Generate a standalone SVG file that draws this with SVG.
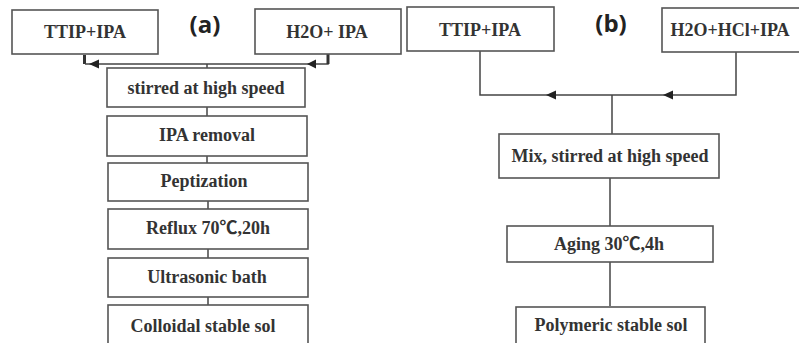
<svg xmlns="http://www.w3.org/2000/svg" width="799" height="343" viewBox="0 0 799 343">
<defs>
<style>
.box{fill:#fff;stroke:#555;stroke-width:1.6}
.t{font-family:'Liberation Serif','Noto Sans CJK SC','Times New Roman',serif;font-weight:700;font-size:18px;fill:#333;text-anchor:middle}
.lab{font-family:'Open Sans','Liberation Sans',sans-serif;font-weight:700;font-size:24px;fill:#222;text-anchor:middle}
.ln{fill:none;stroke:#444;stroke-width:1.5}
.thick{fill:none;stroke:#333;stroke-width:3}
.ah{fill:#222}
</style>
</defs>
<rect width="799" height="343" fill="#fff"/>
<text class="lab" x="205" y="33">(a)</text>
<text class="lab" x="611" y="32">(b)</text>
<g id="connectors">
<path class="thick" d="M84.5 55 V64"/>
<path class="ln" d="M85 64 H328 V51"/>
<path class="thick" d="M328 52 V64"/>
<polygon class="ah" points="89,64 99,59.5 99,68.5"/>
<polygon class="ah" points="307,64 316,59.5 316,68.5"/>
<path class="ln" d="M207 64 V68"/>
<path class="ln" d="M207 107 V116"/>
<path class="ln" d="M207 156 V163"/>
<path class="ln" d="M208 201 V209"/>
<path class="ln" d="M208 249 V258"/>
<path class="ln" d="M208 297 V305"/>
<path class="ln" d="M480 51 V95 H736 V52"/>
<polygon class="ah" points="546,95 556,90.5 556,99.5"/>
<polygon class="ah" points="663,95 673,90.5 673,99.5"/>
<path class="ln" d="M612 95 V134"/>
<path class="ln" d="M610 178 V226"/>
<path class="ln" d="M610 262 V306"/>
</g>
<g id="a-ttip"><rect class="box" x="12" y="10" width="146" height="44"/><text class="t" x="85" y="38">TTIP+IPA</text></g>
<g id="a-h2o"><rect class="box" x="255" y="9" width="146" height="45"/><text class="t" x="327" y="38">H2O+ IPA</text></g>
<g id="a-stir"><rect class="box" x="107" y="68" width="198" height="39"/><text class="t" x="206" y="94">stirred at high speed</text></g>
<g id="a-ipa"><rect class="box" x="107" y="116" width="200" height="40"/><text class="t" x="207" y="141">IPA removal</text></g>
<g id="a-pept"><rect class="box" x="108" y="163" width="200" height="38"/><text class="t" x="204" y="187">Peptization</text></g>
<g id="a-reflux"><rect class="box" x="108" y="209" width="200" height="40"/><text class="t" x="208" y="234">Reflux 70℃,20h</text></g>
<g id="a-ultra"><rect class="box" x="108" y="258" width="200" height="39"/><text class="t" x="207" y="283">Ultrasonic bath</text></g>
<g id="a-colloid"><rect class="box" x="108" y="305" width="200" height="45"/><text class="t" x="203" y="332">Colloidal stable sol</text></g>
<g id="b-ttip"><rect class="box" x="407" y="7" width="147" height="44"/><text class="t" x="480" y="36">TTIP+IPA</text></g>
<g id="b-h2o"><rect class="box" x="662" y="8" width="140" height="44"/><text class="t" x="730" y="36">H2O+HCl+IPA</text></g>
<g id="b-mix"><rect class="box" x="499" y="134" width="220" height="44"/><text class="t" x="610" y="162">Mix, stirred at high speed</text></g>
<g id="b-aging"><rect class="box" x="507" y="226" width="206" height="36"/><text class="t" x="609" y="250">Aging 30℃,4h</text></g>
<g id="b-poly"><rect class="box" x="516" y="307" width="189" height="45"/><text class="t" x="611" y="331">Polymeric stable sol</text></g>
</svg>
